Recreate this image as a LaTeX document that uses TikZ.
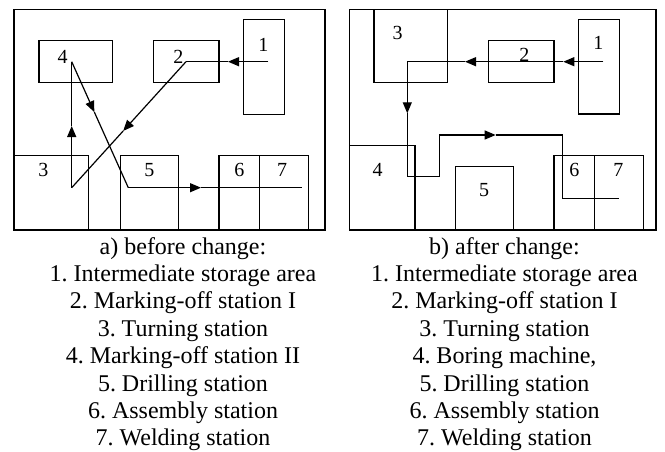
\documentclass[tikz,border=0pt]{standalone}
\usepackage{fontspec}
\setmainfont{Liberation Serif}
\usepackage{tikz}
\usetikzlibrary{arrows.meta,calc}
\frenchspacing
\tikzset{
  box/.style={line width=0.6pt, draw=black},
  line/.style={line width=0.6pt, draw=black},
  flow/.style={line width=0.6pt, draw=black, -{Triangle[length=5.5pt,width=4.5pt]}},
  num/.style={inner sep=0pt, font=\fontsize{10}{12}\selectfont},
  captxt/.style={inner sep=0pt, align=center, anchor=north, font=\fontsize{12}{13.7}\selectfont}
}
\begin{document}
\begin{tikzpicture}[x=0.5pt,y=-0.5pt]
  \useasboundingbox (0,0) rectangle (665,451);

  % a) before change
  \draw[box] (14,9.3) rectangle (325,230);
  \draw[box] (39,40.7) rectangle (112.7,82.3);
  \draw[box] (153.3,40.7) rectangle (219,82.3);
  \draw[box] (243.3,19.3) rectangle (284.3,114.3);
  \draw[box] (14,155.7) -- (88.3,155.7) -- (88.3,230);
  \draw[box] (120.7,230) -- (120.7,155.7) -- (178.3,155.7) -- (178.3,230);
  \draw[box] (219,230) -- (219,155.7) -- (308.3,155.7) -- (308.3,230);
  \draw[box] (259.3,155.7) -- (259.3,230);

  \node[num] (A4) at (62.7,56.7) {4};
  \node[num] (A2) at (178.3,56.7) {2};
  \node[num] (A1) at (263.3,45) {1};
  \node[num] (A3) at (43.3,170) {3};
  \node[num] (A5) at (149.3,170) {5};
  \node[num] (A6) at (239.3,170) {6};
  \node[num] (A7) at (282,170) {7};

  \coordinate (a1) at (268.3,61.7);
  \coordinate (a2) at (186,61.7);
  \coordinate (a3) at (71.7,187.7);
  \coordinate (a4) at (71.7,61.7);
  \coordinate (a5) at (128.3,187.7);
  \coordinate (a6) at (301.7,187.7);

  \coordinate (ta1) at (228,61.7);
  \coordinate (ta2) at ($(a2)!0.55!(a3)$);
  \coordinate (ta3) at (71.7,126);
  \coordinate (ta4) at ($(a4)!0.4!(a5)$);
  \coordinate (ta5) at (201,187.7);

  \draw[flow] (a1) -- (ta1);
  \draw[line] (ta1) -- (a2);
  \draw[flow] (a2) -- (ta2);
  \draw[line] (ta2) -- (a3);
  \draw[flow] (a3) -- (ta3);
  \draw[line] (ta3) -- (a4);
  \draw[flow] (a4) -- (ta4);
  \draw[line] (ta4) -- (a5);
  \draw[flow] (a5) -- (ta5);
  \draw[line] (ta5) -- (a6);

  \node[captxt] (capA) at (183,236.7) {a) before change:\\
    1. Intermediate storage area\\
    2. Marking-off station I\\
    3. Turning station\\
    4. Marking-off station II\\
    5. Drilling station\\
    6. Assembly station\\
    7. Welding station};

  % b) after change
  \draw[box] (349.3,9.3) rectangle (656,230);
  \draw[box] (374,9.3) -- (374,82.3) -- (447.3,82.3) -- (447.3,9.3);
  \draw[box] (488.3,40.7) rectangle (554,82.3);
  \draw[box] (578.3,19.3) rectangle (619.3,114);
  \draw[box] (349.3,145.7) -- (415,145.7) -- (415,230);
  \draw[box] (455.7,230) -- (455.7,166.7) -- (513.3,166.7) -- (513.3,230);
  \draw[box] (554,230) -- (554,155.7) -- (643.3,155.7) -- (643.3,230);
  \draw[box] (594.3,155.7) -- (594.3,230);

  \node[num] (B3) at (397.7,33.3) {3};
  \node[num] (B2) at (524.3,55) {2};
  \node[num] (B1) at (598.3,43.3) {1};
  \node[num] (B4) at (377.7,170) {4};
  \node[num] (B5) at (484,190) {5};
  \node[num] (B6) at (574.3,170) {6};
  \node[num] (B7) at (618.3,170) {7};

  \coordinate (b1) at (603.3,61.7);
  \coordinate (b2) at (407.3,61.7);
  \coordinate (b3) at (407.3,176.7);
  \coordinate (b4) at (439.3,176.7);
  \coordinate (b5) at (439.3,135);
  \coordinate (b6) at (562.3,135);
  \coordinate (b7) at (562.3,198.3);
  \coordinate (b8) at (619.3,198.3);

  \coordinate (tb1) at (563.3,61.7);
  \coordinate (tb2) at (465,61.7);
  \coordinate (tb3) at (407.3,113.3);
  \coordinate (tb4) at (495.7,135);

  \draw[flow] (b1) -- (tb1);
  \draw[flow] (tb1) -- (tb2);
  \draw[line] (tb2) -- (b2);
  \draw[flow] (b2) -- (tb3);
  \draw[line] (tb3) -- (b3) -- (b4) -- (b5);
  \draw[flow] (b5) -- (tb4);
  \draw[line] (tb4) -- (b6) -- (b7) -- (b8);

  \node[captxt] (capB) at (504.5,236.7) {b) after change:\\
    1. Intermediate storage area\\
    2. Marking-off station I\\
    3. Turning station\\
    4. Boring machine,\\
    5. Drilling station\\
    6. Assembly station\\
    7. Welding station};
\end{tikzpicture}
\end{document}
